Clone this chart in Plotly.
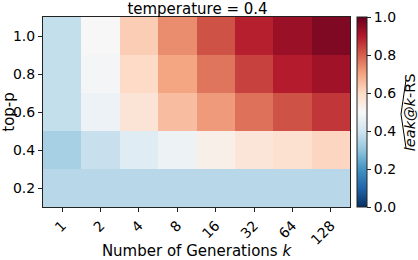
import plotly.graph_objects as go

k_labels = ["1", "2", "4", "8", "16", "32", "64", "128"]
top_p = [0.2, 0.4, 0.6, 0.8, 1.0]

# leak@k-RS estimates, one list per top-p row
row_p02 = [0.36, 0.36, 0.36, 0.36, 0.36, 0.36, 0.36, 0.36]
row_p04 = [0.335, 0.385, 0.437, 0.474, 0.53, 0.564, 0.58, 0.61]
row_p06 = [0.38, 0.47, 0.57, 0.656, 0.716, 0.775, 0.82, 0.858]
row_p08 = [0.38, 0.49, 0.60, 0.70, 0.77, 0.843, 0.895, 0.924]
row_p10 = [0.38, 0.50, 0.626, 0.735, 0.82, 0.89, 0.933, 0.968]

z = [row_p02, row_p04, row_p06, row_p08, row_p10]

rdbu_r = [
    [0.0, "#053061"], [0.1, "#2166ac"], [0.2, "#4393c3"], [0.3, "#92c5de"],
    [0.4, "#d1e5f0"], [0.5, "#f7f7f7"], [0.6, "#fddbc7"], [0.7, "#f4a582"],
    [0.8, "#d6604d"], [0.9, "#b2182b"], [1.0, "#67001f"],
]

FONT = "DejaVu Sans"
TICK = 14
LAB = 15

fig = go.Figure(go.Heatmap(
    x=k_labels, y=top_p, z=z,
    colorscale=rdbu_r, zmin=0, zmax=1,
    colorbar=dict(
        x=1.023, xanchor="left", xref="paper",
        y=0.5, yanchor="middle", len=1, lenmode="fraction",
        thickness=10, ypad=0, xpad=0,
        outlinewidth=1, outlinecolor="#222",
        ticks="outside", ticklen=4, tickcolor="#222",
        tickvals=[0, 0.2, 0.4, 0.6, 0.8, 1.0], tickformat=".1f",
        tickfont=dict(family=FONT, size=TICK, color="black"),
    ),
))

fig.update_layout(
    width=418, height=260,
    margin=dict(l=43, r=68, t=17, b=53, autoexpand=False),
    paper_bgcolor="white", plot_bgcolor="white",
    font=dict(family=FONT, size=TICK, color="black"),
    title=dict(text="temperature = 0.4", x=0.4725, xanchor="center",
               y=0.968, yanchor="middle", yref="container",
               font=dict(family=FONT, size=LAB, color="black")),
    xaxis=dict(
        type="category", tickangle=-45, ticks="outside", ticklen=4,
        tickcolor="#222", showline=True, linecolor="#222", linewidth=1,
        mirror=True, showgrid=False,
        tickfont=dict(family=FONT, size=TICK),
        title=dict(text="Number of Generations <i>k</i>", standoff=4,
                   font=dict(family=FONT, size=LAB)),
    ),
    yaxis=dict(
        tickvals=top_p, ticktext=["0.2", "0.4", "0.6", "0.8", "1.0"],
        ticks="outside", ticklen=4, tickcolor="#222",
        showline=True, linecolor="#222", linewidth=1, mirror=True,
        showgrid=False, zeroline=False,
        tickfont=dict(family=FONT, size=TICK),
        title=dict(text="top-p", standoff=2, font=dict(family=FONT, size=LAB)),
    ),
    annotations=[dict(
        text="<i>leak@k</i>-RS", textangle=-90, showarrow=False,
        xref="paper", yref="paper", x=1.196, y=0.5, xanchor="center",
        yanchor="middle", font=dict(family=FONT, size=14.5, color="black"),
    )],
    shapes=[dict(
        type="path", xref="paper", yref="paper",
        path="M 1.1824 0.311 L 1.1661 0.489 L 1.1824 0.668",
        line=dict(color="black", width=1),
    )],
)

fig.write_html("out.html", config={"displayModeBar": False},
               post_script="document.body.style.margin='0';document.body.style.padding='0';")
